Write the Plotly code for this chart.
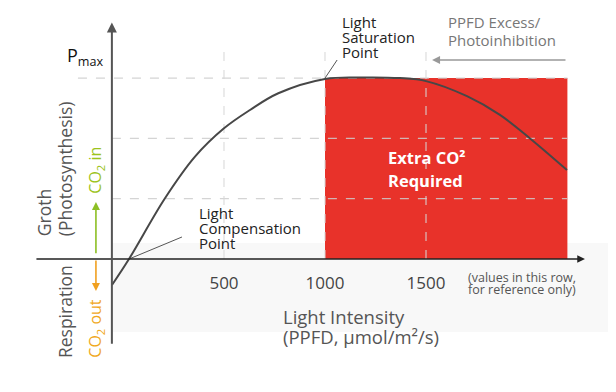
import plotly.graph_objects as go

# ---- data ----
ppfd = [-54.5, 29.7, 207.9, 356.4, 500, 628.7, 768.8, 1000, 1173, 1371, 1500, 1703, 1866, 2015, 2198]
rate = [-0.431, 0.0, 1.007, 1.697, 2.167, 2.471, 2.748, 2.985, 3.01, 3.0, 2.95, 2.70, 2.39, 2.0, 1.476]
tick_vals = [500, 1000, 1500]
tick_text = ["500", "1000", "1500"]
grid_levels = [1, 2, 3]
extra_co2_range = [1000, 2200]
p_max = 3.0
compensation_x = 30
saturation_x = 1000

FONT = "Open Sans"
RED = "#e8322a"

fig = go.Figure()

fig.add_trace(go.Scatter(
    x=ppfd, y=rate, mode="lines",
    line=dict(color="#474747", width=2, shape="spline", smoothing=1.0),
    hoverinfo="skip", showlegend=False, cliponaxis=False,
))

shapes = []
shapes.append(dict(type="rect", xref="x", yref="y", x0=-54.5, x1=2401, y0=-1.21, y1=0.265,
                   fillcolor="#f8f8f8", line_width=0, layer="below"))
shapes.append(dict(type="rect", xref="x", yref="y", x0=extra_co2_range[0], x1=extra_co2_range[1],
                   y0=0, y1=p_max, fillcolor=RED, line_width=0, layer="below"))
for g in grid_levels:
    x0 = -223 if g == p_max else -55
    shapes.append(dict(type="line", xref="x", yref="y", x0=x0, x1=extra_co2_range[1], y0=g, y1=g,
                       line=dict(color="rgba(205,205,205,0.85)", width=1.2, dash="dash"), layer="below"))
for v in tick_vals:
    shapes.append(dict(type="line", xref="x", yref="y", x0=v, x1=v, y0=0, y1=3.58,
                       line=dict(color="rgba(215,215,215,0.85)", width=1.2, dash="dash"), layer="below"))
shapes.append(dict(type="line", xref="x", yref="y", x0=compensation_x, y0=0, x1=292, y1=0.365,
                   line=dict(color="#555", width=1)))
shapes.append(dict(type="line", xref="x", yref="y", x0=saturation_x, y0=p_max, x1=1060, y1=3.3,
                   line=dict(color="#555", width=1)))
fig.update_layout(shapes=shapes)

ann = []
def arrow(x, y, ax, ay, color, width, size=1.0):
    ann.append(dict(x=x, y=y, ax=ax, ay=ay, xref="x", yref="y", axref="x", ayref="y",
                    showarrow=True, arrowhead=2, arrowsize=size, arrowwidth=width,
                    arrowcolor=color, text=""))

arrow(2287, 0, -436, 0, "#222", 1.4, 1.1)          # x axis
arrow(-55, 3.92, -55, -1.43, "#555", 2)            # y axis
arrow(-134, 0.945, -134, 0.07, "#8dbf24", 1.6)     # CO2 in
arrow(-134, -0.53, -134, 0.0, "#f0a020", 1.6)      # CO2 out
arrow(1530, 3.30, 2198, 3.30, "#999", 1.6)         # photoinhibition

def txt(x, y, text, size, color, xanchor="left", angle=0):
    ann.append(dict(x=x, y=y, text=text, xref="x", yref="y", showarrow=False,
                    xanchor=xanchor, yanchor="middle", align="left", textangle=angle,
                    font=dict(family=FONT, size=size, color=color)))

def lines(x, ys, texts, size, color):
    for yy, t in zip(ys, texts):
        txt(x, yy, t, size, color)

txt(-188, 3.36, "P<sub>max</sub>", 18, "#111", xanchor="center")
lines(1075, [3.93, 3.68, 3.43], ["Light", "Saturation", "Point"], 15, "#222")
lines(1600, [3.93, 3.63], ["PPFD Excess/", "Photoinhibition"], 15, "#777")
lines(1300, [1.68, 1.31], ["<b>Extra CO²</b>", "<b>Required</b>"], 16.5, "#ffffff")
lines(366, [0.76, 0.51, 0.26], ["Light", "Compensation", "Point"], 15, "#222")
lines(1698, [-0.30, -0.51], ["(values in this row,", "for reference only)"], 12.5, "#555")
lines(782, [-0.95, -1.29], ["Light Intensity", "(PPFD, μmol/m²/s)"], 18.5, "#555")
txt(-391, 0.76, "Groth", 17.5, "#555", xanchor="center", angle=-90)
txt(-287, 1.49, "(Photosynthesis)", 17.5, "#555", xanchor="center", angle=-90)
txt(-287, -0.88, "Respiration", 17.5, "#555", xanchor="center", angle=-90)
txt(-134, 1.48, "CO<sub>2</sub> in", 16, "#9cc31c", xanchor="center", angle=-90)
txt(-134, -1.14, "CO<sub>2</sub> out", 16, "#f0a81c", xanchor="center", angle=-90)

# page has an 8px body margin: figure pixel = reference pixel - 8
fig.update_layout(
    annotations=ann,
    width=600, height=376,
    margin=dict(l=0, r=0, t=0, b=0),
    paper_bgcolor="white", plot_bgcolor="white",
    showlegend=False,
    xaxis=dict(range=[-569.3, 2401], domain=[0, 1], anchor="free", position=1 - 251 / 376,
               tickvals=tick_vals, ticktext=tick_text, ticks="", showgrid=False, zeroline=False,
               showline=False, tickfont=dict(family=FONT, size=17, color="#444"),
               ticklabelstandoff=12, fixedrange=True),
    yaxis=dict(range=[-2.073, 4.1625], domain=[0, 1], visible=False, showgrid=False, zeroline=False,
               fixedrange=True),
)

fig.write_html("out.html")
